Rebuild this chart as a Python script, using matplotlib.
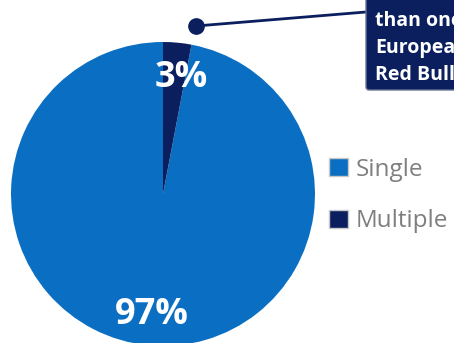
import matplotlib.pyplot as plt
from matplotlib.patches import FancyBboxPatch, Patch

labels = ['Single', 'Multiple']
values = [97, 3]
colors = ['#0a6fc2', '#0b1f5e']
note_lines = ['than one', 'European', 'Red Bull']

plt.rcParams['font.family'] = ['Open Sans', 'DejaVu Sans']

fig = plt.figure(figsize=(4.54, 3.43), dpi=100)
ax = fig.add_axes([0, 0, 1, 1])
ax.set_xlim(0, 454)
ax.set_ylim(0, 343)
ax.set_aspect('equal')
ax.axis('off')

wedges, texts, autotexts = ax.pie(values, colors=colors, startangle=90,
                                  center=(163, 149), radius=152,
                                  autopct='%d%%', pctdistance=0.79,
                                  textprops=dict(color='white', fontsize=26,
                                                 fontweight='bold'))
ax.set_xlim(0, 454)
ax.set_ylim(0, 343)
# nudge the percentage labels like the original
autotexts[0].set_position((152, 28))
autotexts[1].set_position((181, 265))

# callout
ax.plot([196, 366], [317, 331], color='#0b1f5e', lw=2, zorder=5)
ax.plot([196], [317], 'o', color='#0b1f5e', ms=11, zorder=6)
box = FancyBboxPatch((366, 253), 120, 110, boxstyle='round,pad=0,rounding_size=3',
                     fc='#0b1f5e', ec='#6b7590', lw=1, zorder=5)
ax.add_patch(box)
ax.text(375, 332, '\n'.join(note_lines), color='white', fontsize=14,
        fontweight='bold', va='top', ha='left', linespacing=1.45, zorder=7)

handles = [Patch(fc=c, ec='#c8c8c8', lw=1) for c in colors]
leg = ax.legend(handles, labels, loc='center left', bbox_to_anchor=(0.697, 0.43),
                frameon=False, fontsize=17.5, labelcolor='#7f7f7f',
                handlelength=0.8, handleheight=0.8, handletextpad=0.3,
                labelspacing=1.15, borderpad=0)

fig.savefig('out.png', dpi=100)
